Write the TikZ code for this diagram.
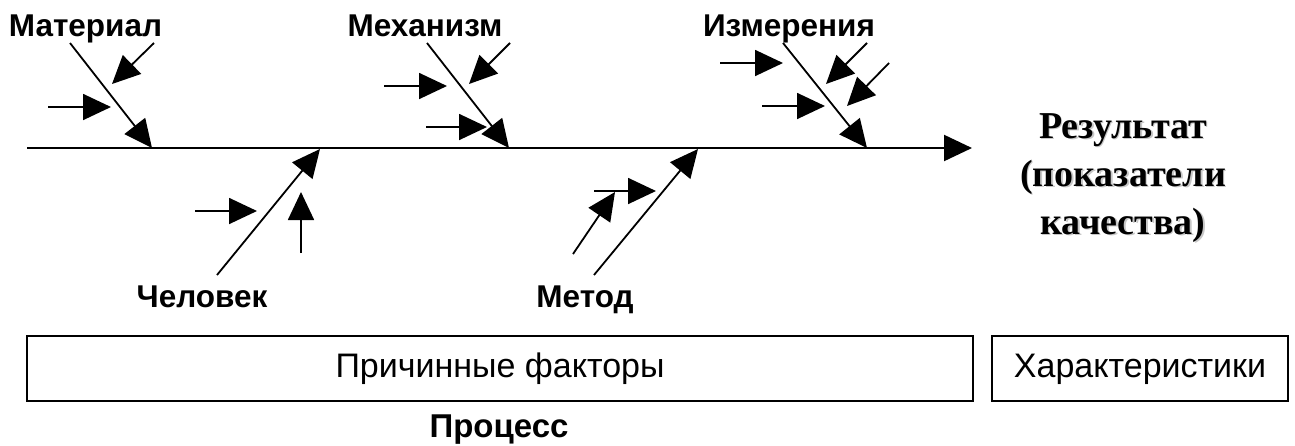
\documentclass[tikz,border=0pt]{standalone}
\usepackage{fontspec}
\setmainfont{Liberation Serif}
\newfontfamily\arial{Liberation Sans}
\usetikzlibrary{arrows.meta}
\begin{document}
\begin{tikzpicture}[x=1pt,y=-1pt,
  bone/.style={line width=1.8pt,-{Triangle[length=28pt,width=26pt]}},
  spine/.style={line width=2.2pt,-{Triangle[length=28pt,width=26pt]}},
  lbl/.style={font=\arial\bfseries\fontsize{31.5}{34}\selectfont,inner sep=0pt,anchor=base},
  boxlbl/.style={draw,line width=2.4pt,font=\arial\fontsize{34}{36}\selectfont,inner sep=0pt,
    text height=24pt,text depth=7pt,minimum height=65pt},
  reslbl/.style={font=\bfseries\fontsize{38}{48}\selectfont,inner sep=0pt,anchor=base}]
\useasboundingbox (0,0) rectangle (1295,445);
% spine
\coordinate (s0) at (27,148);
\coordinate (s1) at (972,148);
\draw[spine] (s0) -- (s1);
% Material
\coordinate (ma0) at (70,43);   \coordinate (ma1) at (152,148);
\coordinate (ma2) at (154,43);  \coordinate (ma3) at (112,84);
\coordinate (ma4) at (48,107);  \coordinate (ma5) at (111,107);
\draw[bone] (ma0) -- (ma1);
\draw[bone] (ma2) -- (ma3);
\draw[bone] (ma4) -- (ma5);
\node[lbl] (lmat) at (85.5,36) {Материал};
% Mechanism
\coordinate (me0) at (427,43);  \coordinate (me1) at (509,148);
\coordinate (me2) at (510,43);  \coordinate (me3) at (469,84);
\coordinate (me4) at (384,86);  \coordinate (me5) at (447,86);
\coordinate (me6) at (426,127); \coordinate (me7) at (487,127);
\draw[bone] (me0) -- (me1);
\draw[bone] (me2) -- (me3);
\draw[bone] (me4) -- (me5);
\draw[bone] (me6) -- (me7);
\node[lbl] (lmech) at (425,36) {Механизм};
% Measurement
\coordinate (iz0) at (783,43);  \coordinate (iz1) at (867,148);
\coordinate (iz2) at (867,43);  \coordinate (iz3) at (826,84);
\coordinate (iz4) at (889,63);  \coordinate (iz5) at (847,106);
\coordinate (iz6) at (720,63);  \coordinate (iz7) at (783,63);
\coordinate (iz8) at (762,106); \coordinate (iz9) at (825,106);
\draw[bone] (iz0) -- (iz1);
\draw[bone] (iz2) -- (iz3);
\draw[bone] (iz4) -- (iz5);
\draw[bone] (iz6) -- (iz7);
\draw[bone] (iz8) -- (iz9);
\node[lbl] (lmeas) at (789,36) {Измерения};
% Man
\coordinate (ch0) at (217,275); \coordinate (ch1) at (320,149);
\coordinate (ch2) at (195,211); \coordinate (ch3) at (257,211);
\coordinate (ch4) at (301,253); \coordinate (ch5) at (301,192);
\draw[bone] (ch0) -- (ch1);
\draw[bone] (ch2) -- (ch3);
\draw[bone] (ch4) -- (ch5);
\node[lbl] (lman) at (202,307.5) {Человек};
% Method
\coordinate (mt0) at (594,275); \coordinate (mt1) at (698,149);
\coordinate (mt2) at (573,254); \coordinate (mt3) at (615,192);
\coordinate (mt4) at (594,191); \coordinate (mt5) at (656,191);
\draw[bone] (mt0) -- (mt1);
\draw[bone] (mt2) -- (mt3);
\draw[bone] (mt4) -- (mt5);
\node[lbl] (lmeth) at (585,307.5) {Метод};
% Result (with soft shadow)
\begin{scope}[text=black!22]
\node[reslbl] at (1124.5,139.5) {Результат};
\node[reslbl] at (1124.5,187.5) {(показатели};
\node[reslbl] at (1124.5,235.5) {качества)};
\end{scope}
\node[reslbl] (res1) at (1123,138) {Результат};
\node[reslbl] (res2) at (1123,186) {(показатели};
\node[reslbl] (res3) at (1123,234) {качества)};
% boxes
\node[boxlbl,minimum width=946pt] (causes) at (500,368.5) {Причинные факторы};
\node[boxlbl,minimum width=296pt] (chars) at (1140,368.5) {Характеристики};
\node[lbl,font=\arial\bfseries\fontsize{33}{36}\selectfont] (proc) at (499,437.5) {Процесс};
\end{tikzpicture}
\end{document}
